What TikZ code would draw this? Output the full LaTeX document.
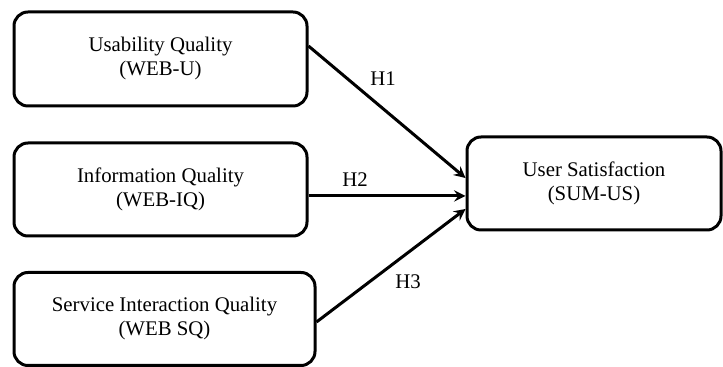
\documentclass[tikz,border=0pt]{standalone}
\usepackage{fontspec}
\setmainfont{Liberation Serif}
\begin{document}
\begin{tikzpicture}[x=0.5pt, y=-0.5pt,
        construct/.style={draw, line width=1.5pt, rounded corners=7pt, align=center,
            inner sep=0pt, minimum height=46.5pt, font=\fontsize{10.4}{12}\selectfont},
        path/.style={line width=1.5pt, -stealth},
        hyp/.style={font=\fontsize{10.4}{12}\selectfont}]
    \useasboundingbox (0,0) rectangle (723,367);
    \node[construct, minimum width=146.5pt, minimum height=47pt] (usab) at (160.5,59) {Usability Quality\\(WEB-U)};
    \node[construct, minimum width=146.5pt] (info) at (160.5,189.5) {Information Quality\\(WEB-IQ)};
    \node[construct, minimum width=150.5pt] (serv) at (164.5,319) {Service Interaction Quality\\(WEB SQ)};
    \node[construct, minimum width=127pt] (sat) at (594,183.5) {User Satisfaction\\(SUM-US)};
    \draw[path] ([yshift=6.5pt]usab.east) -- ([yshift=2.75pt]sat.west);
    \draw[path] ([yshift=-3.25pt]info.east) -- ([yshift=-6.25pt]sat.west);
    \draw[path] ([yshift=-1.5pt]serv.east) -- ([yshift=-12.75pt]sat.west);
    \node[hyp] (h1) at (383,79) {H1};
    \node[hyp] (h2) at (355,180) {H2};
    \node[hyp] (h3) at (408,282) {H3};
\end{tikzpicture}
\end{document}
